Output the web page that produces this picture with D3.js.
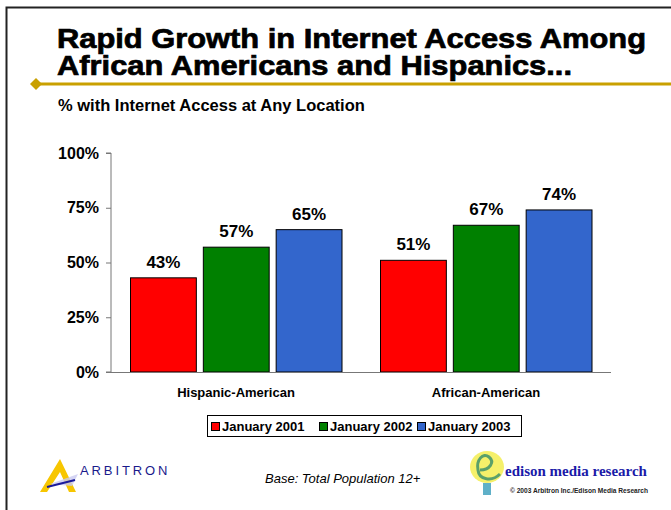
<!DOCTYPE html>
<html>
<head>
<meta charset="utf-8">
<script src="https://cdn.jsdelivr.net/npm/d3@7"></script>
<style>
  html, body { margin: 0; padding: 0; background: #fff; }
  svg { display: block; font-family: Arial, "Liberation Sans", sans-serif; }
</style>
</head>
<body>
<svg id="chart" width="671" height="510"></svg>
<script>
// Groups, series and values
const categories = ["Hispanic-American", "African-American"];
const seriesNames = ["January 2001", "January 2002", "January 2003"];
const hispanicValues = [43, 57, 65];
const africanValues = [51, 67, 74];
const seriesColors = ["#ff0000", "#008000", "#3366cc"];
const yTicks = [0, 25, 50, 75, 100];

const valuesByGroup = [hispanicValues, africanValues];
const rows = [];
categories.forEach((c, gi) => {
  seriesNames.forEach((s, si) => rows.push({ group: c, series: s, value: valuesByGroup[gi][si] }));
});

const svg = d3.select("#chart");

// Slide frame
svg.append("path").attr("d", "M6.5,510 V7.5 H671")
  .attr("fill", "none").attr("stroke", "#222").attr("stroke-width", 2);

// Title (wide, heavy face)
const title = svg.append("text").attr("font-weight", "bold")
  .attr("font-size", 27).attr("fill", "#000")
  .attr("stroke", "#000").attr("stroke-width", 0.7);
title.append("tspan").attr("x", 57).attr("y", 48)
  .attr("textLength", 589).attr("lengthAdjust", "spacingAndGlyphs")
  .text("Rapid Growth in Internet Access Among");
title.append("tspan").attr("x", 57).attr("y", 75)
  .attr("textLength", 515).attr("lengthAdjust", "spacingAndGlyphs")
  .text("African Americans and Hispanics...");

// Gold rule with diamond
svg.append("line").attr("x1", 36).attr("x2", 671).attr("y1", 84).attr("y2", 84)
  .attr("stroke", "#c9a000").attr("stroke-width", 3);
svg.append("path").attr("d", "M36,78 L42,84 L36,90 L30,84 Z").attr("fill", "#c9a000");

// Subtitle
svg.append("text").attr("x", 58).attr("y", 111).attr("font-weight", "bold")
  .attr("font-size", 16.5).text("% with Internet Access at Any Location");

// Scales
const plot = { left: 111, right: 611, top: 153, bottom: 372 };
const y = d3.scaleLinear().domain([0, 100]).range([plot.bottom, plot.top]);
const x0 = d3.scaleBand().domain(categories).range([plot.left, plot.right]).padding(0);
const x1 = d3.scaleBand().domain(seriesNames).range([19.5, 231]).paddingInner(0.096).paddingOuter(0);
const color = d3.scaleOrdinal().domain(seriesNames).range(seriesColors);

// Y axis
const yAxis = svg.append("g").attr("transform", `translate(${plot.left},0)`)
  .call(d3.axisLeft(y).tickValues(yTicks).tickFormat(d => d + "%").tickSize(5).tickPadding(7));
yAxis.select(".domain").attr("stroke", "#777").attr("d", `M-5,${plot.bottom}H0V${plot.top}H-5`);
yAxis.selectAll(".tick line").attr("stroke", "#777");
yAxis.selectAll(".tick text").attr("font-size", 16).attr("font-weight", "bold")
  .attr("fill", "#000").attr("font-family", "Arial, 'Liberation Sans', sans-serif");

// Bars
const bars = svg.append("g");
bars.selectAll("rect").data(rows).join("rect")
  .attr("x", d => x0(d.group) + x1(d.series))
  .attr("y", d => y(d.value))
  .attr("width", x1.bandwidth())
  .attr("height", d => y(0) - y(d.value))
  .attr("fill", d => color(d.series))
  .attr("stroke", "#000").attr("stroke-width", 1);

// Value labels
svg.append("g").selectAll("text").data(rows).join("text")
  .attr("x", d => x0(d.group) + x1(d.series) + x1.bandwidth() / 2)
  .attr("y", d => y(d.value) - 10)
  .attr("text-anchor", "middle").attr("font-weight", "bold").attr("font-size", 17)
  .text(d => d.value + "%");

// X axis
const xAxis = svg.append("g").attr("transform", `translate(0,${plot.bottom})`)
  .call(d3.axisBottom(x0).tickSize(0).tickPadding(16));
xAxis.select(".domain").attr("stroke", "#777").attr("d", `M${plot.left},0.5H${plot.right}`);
xAxis.selectAll(".tick text").attr("font-size", 13).attr("font-weight", "bold")
  .attr("fill", "#000").attr("font-family", "Arial, 'Liberation Sans', sans-serif");

// Legend
const legend = svg.append("g");
legend.append("rect").attr("x", 207.5).attr("y", 415.5).attr("width", 314).attr("height", 21)
  .attr("fill", "#fff").attr("stroke", "#000").attr("stroke-width", 1);
const legendX = [211, 319, 417];
const items = legend.selectAll("g.item").data(seriesNames).join("g").attr("class", "item")
  .attr("transform", (d, i) => `translate(${legendX[i]},0)`);
items.append("rect").attr("x", 0.5).attr("y", 422.5).attr("width", 8).attr("height", 8)
  .attr("fill", d => color(d)).attr("stroke", "#000").attr("stroke-width", 1);
items.append("text").attr("x", 11).attr("y", 431).attr("font-size", 13).attr("font-weight", "bold")
  .text(d => d);

// Footer note
svg.append("text").attr("x", 265).attr("y", 483).attr("font-size", 13).attr("font-style", "italic")
  .text("Base: Total Population 12+");

// Arbitron mark
const arb = svg.append("g");
arb.append("path").attr("d", "M40,492 L60,459 L76,492 L69,492 L60,472 L47,492 Z").attr("fill", "#f7c600");
arb.append("path").attr("d", "M50,484 L78,474 L72,486 Z").attr("fill", "#c9c9f0").attr("opacity", 0.8);
arb.append("line").attr("x1", 47).attr("y1", 487).attr("x2", 75).attr("y2", 480)
  .attr("stroke", "#1a1a9a").attr("stroke-width", 2);
arb.append("text").attr("x", 80).attr("y", 475).attr("font-size", 13).attr("letter-spacing", 2.9)
  .attr("fill", "#1a1a8c").text("ARBITRON");

// Edison mark
const ed = svg.append("g");
ed.append("ellipse").attr("cx", 487).attr("cy", 467).attr("rx", 17).attr("ry", 16).attr("fill", "#f5f06a");
ed.append("path").attr("d", "M480,470 C490,470 495,462 489,457 C483,452 476,460 478,470 C479,480 492,482 500,474")
  .attr("fill", "none").attr("stroke", "#5aa06a").attr("stroke-width", 3);
ed.append("rect").attr("x", 483).attr("y", 483).attr("width", 8).attr("height", 12).attr("fill", "#5fb0c8");
ed.append("text").attr("x", 505).attr("y", 476).attr("font-family", "'Liberation Serif', 'DejaVu Serif', serif")
  .attr("font-weight", "bold").attr("font-size", 15).attr("fill", "#1a1aa8").text("edison media research");
ed.append("text").attr("x", 510).attr("y", 493).attr("font-size", 6.6).attr("font-weight", "bold")
  .attr("fill", "#222").text("© 2003 Arbitron Inc./Edison Media Research");
</script>
</body>
</html>
